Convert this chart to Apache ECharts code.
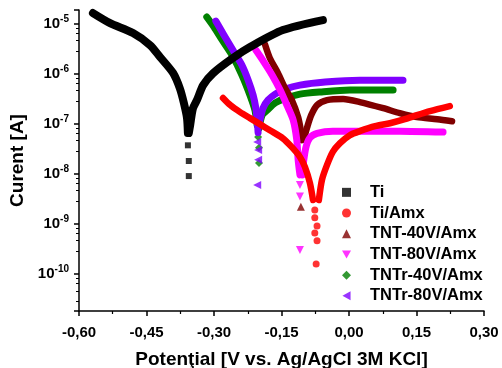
<!DOCTYPE html>
<html>
<head>
<meta charset="utf-8">
<script src="https://cdn.jsdelivr.net/npm/echarts@6/dist/echarts.min.js"></script>
<style>html,body{margin:0;padding:0;background:#fff}#c{width:502px;height:368px}</style>
</head>
<body>
<div id="c"></div>
<script>
// [potential (V), current (A)]
const seriesNames = ['Ti', 'Ti/Amx', 'TNT-40V/Amx', 'TNT-80V/Amx', 'TNTr-40V/Amx', 'TNTr-80V/Amx'];
const xTicks = [-0.60, -0.45, -0.30, -0.15, 0.00, 0.15, 0.30];

const tiCath = [[-0.569,1.62e-5],[-0.531,1.02e-5],[-0.480,6.45e-6],[-0.442,3.7e-6],[-0.420,2.15e-6],[-0.391,1.03e-6],[-0.376,5.1e-7],[-0.367,2.6e-7],[-0.360,1.3e-7],[-0.358,6.5e-8]];
const tiDip = [[-0.358,3.7e-8],[-0.356,1.8e-8],[-0.356,9e-9]];
const tiAnod = [[-0.356,6.5e-8],[-0.353,9.3e-8],[-0.347,2.0e-7],[-0.338,2.95e-7],[-0.324,5.9e-7],[-0.302,1.02e-6],[-0.258,2.05e-6],[-0.220,3.4e-6],[-0.147,7.4e-6],[-0.058,1.17e-5]];

const amxCath = [[-0.280,3.26e-7],[-0.264,2.35e-7],[-0.242,1.7e-7],[-0.220,1.29e-7],[-0.198,9.8e-8],[-0.176,7.4e-8],[-0.147,5.1e-8],[-0.127,3.4e-8],[-0.109,2.17e-8],[-0.098,1.37e-8],[-0.087,6.6e-9],[-0.080,3.0e-9]];
const amxDip = [[-0.076,1.9e-9],[-0.076,1.32e-9],[-0.071,9.1e-10],[-0.076,6.6e-10],[-0.071,4.6e-10],[-0.073,1.58e-10]];
const amxAnod = [[-0.067,3.0e-9],[-0.060,7.6e-9],[-0.049,1.49e-8],[-0.036,2.74e-8],[-0.020,4.1e-8],[0.002,5.9e-8],[0.024,7.1e-8],[0.058,8.9e-8],[0.091,1.02e-7],[0.124,1.23e-7],[0.151,1.48e-7],[0.180,1.78e-7],[0.224,2.24e-7]];

const t40Cath = [[-0.187,3.9e-6],[-0.176,2.05e-6],[-0.158,1.03e-6],[-0.142,5.1e-7],[-0.127,2.95e-7],[-0.113,1.35e-7],[-0.107,7.4e-8],[-0.104,4.7e-8]];
const t40Dip = [[-0.104,2.4e-8],[-0.107,2.2e-9]];
const t40Anod = [[-0.100,5.1e-8],[-0.093,8.5e-8],[-0.084,1.48e-7],[-0.071,2.35e-7],[-0.049,2.95e-7],[-0.013,3.1e-7],[0.024,2.7e-7],[0.076,2.04e-7],[0.113,1.62e-7],[0.151,1.35e-7],[0.196,1.23e-7],[0.229,1.12e-7]];

const t80Cath = [[-0.207,2.95e-6],[-0.189,1.7e-6],[-0.171,9.4e-7],[-0.153,4.7e-7],[-0.138,2.35e-7],[-0.124,1.18e-7],[-0.116,4.7e-8],[-0.113,1.9e-8],[-0.109,9.5e-9]];
const t80Dip = [[-0.109,6.0e-9],[-0.109,3.5e-9],[-0.109,3.0e-10]];
const t80Anod = [[-0.104,9.5e-9],[-0.102,1.5e-8],[-0.096,3.3e-8],[-0.087,5.2e-8],[-0.071,6.4e-8],[-0.036,7.1e-8],[0.024,7.1e-8],[0.113,7.1e-8],[0.209,6.8e-8]];

const r40Cath = [[-0.316,1.35e-5],[-0.300,8.5e-6],[-0.282,4.7e-6],[-0.260,2.35e-6],[-0.238,9.4e-7],[-0.220,3.7e-7],[-0.209,1.86e-7],[-0.204,9.3e-8]];
const r40Dip = [[-0.202,5.4e-8],[-0.200,3.3e-8],[-0.200,1.65e-8]];
const r40Anod = [[-0.200,8.1e-8],[-0.193,1.48e-7],[-0.182,1.86e-7],[-0.164,2.6e-7],[-0.142,3.2e-7],[-0.109,3.9e-7],[-0.064,4.3e-7],[0.002,4.7e-7],[0.098,4.7e-7]];

const r80Cath = [[-0.296,1.12e-5],[-0.278,5.9e-6],[-0.258,2.95e-6],[-0.238,1.48e-6],[-0.224,7.4e-7],[-0.213,3.7e-7],[-0.207,2.05e-7],[-0.204,1.17e-7],[-0.202,6.7e-8]];
const r80Dip = [[-0.204,4.3e-8],[-0.202,3.0e-8],[-0.202,1.9e-8],[-0.204,6.0e-9]];
const r80Anod = [[-0.198,1.17e-7],[-0.191,2.05e-7],[-0.180,2.95e-7],[-0.164,3.9e-7],[-0.142,4.9e-7],[-0.109,5.9e-7],[-0.053,6.8e-7],[0.024,7.4e-7],[0.120,7.4e-7]];

const colors = ['#000000', '#ff0000', '#800000', '#ff00ff', '#008000', '#8000ff'];
const symbols = ['rect', 'circle', 'triangle', 'path://M0,0L10,0L5,9Z', 'diamond', 'path://M9,0L9,10L0,5Z'];
const symSizes = [6, 7, 8, 8, 8, 8];
const lineWidths = [8, 6.5, 6.5, 7, 7, 7];
const groups = [
  [tiCath, tiDip, tiAnod],
  [amxCath, amxDip, amxAnod],
  [t40Cath, t40Dip, t40Anod],
  [t80Cath, t80Dip, t80Anod],
  [r40Cath, r40Dip, r40Anod],
  [r80Cath, r80Dip, r80Anod]
];
const zOrder = [8, 7, 4, 5, 2, 3];

const series = [];
groups.forEach((g, i) => {
  series.push({
    name: seriesNames[i], type: 'scatter', data: g[1],
    symbol: symbols[i], symbolSize: symSizes[i],
    itemStyle: { color: colors[i] }, z: zOrder[i]
  });
});
groups.forEach((g, i) => {
  [g[0], g[2]].forEach(d => {
    series.push({
      name: seriesNames[i], type: 'line', data: d, smooth: 0.25,
      showSymbol: false, symbol: 'none',
      lineStyle: { color: colors[i], width: lineWidths[i], cap: 'round', join: 'round' },
      itemStyle: { color: colors[i] }, z: zOrder[i]
    });
  });
});

const chart = echarts.init(document.getElementById('c'), null, { renderer: 'canvas' });
const bold = { fontFamily: 'Liberation Sans, Arial, sans-serif', fontWeight: 'bold', color: '#000' };
chart.setOption({
  animation: false,
  backgroundColor: '#fff',
  grid: { left: 79, right: 18, top: 10, bottom: 57, containLabel: false, outerBoundsMode: 'none' },
  legend: {
    orient: 'vertical', left: 342, top: 182, padding: 0,
    itemWidth: 9, itemHeight: 9, itemGap: 0,
    data: seriesNames.map((n, i) => ({ name: n, icon: symbols[i] })),
    textStyle: Object.assign({}, bold, { fontSize: 16.5, lineHeight: 20.7, padding: [0, 0, 0, 14] }),
    selectedMode: false
  },
  xAxis: {
    type: 'value', min: -0.6, max: 0.3, interval: 0.15,
    name: 'Potenţial [V vs. Ag/AgCl 3M KCl]', nameLocation: 'middle', nameGap: 39,
    nameTextStyle: Object.assign({}, bold, { fontSize: 19 }),
    axisLine: { onZero: false, lineStyle: { color: '#000', width: 1.5 } },
    axisTick: { inside: false, length: 5, lineStyle: { color: '#000', width: 1.5 } },
    minorTick: { show: true, splitNumber: 2, length: 3, lineStyle: { color: '#000', width: 1.2 } },
    splitLine: { show: false },
    axisLabel: Object.assign({}, bold, { fontSize: 15, margin: 14,
      formatter: v => (Math.abs(v) < 1e-9 ? 0 : v).toFixed(2).replace('.', ',') })
  },
  yAxis: {
    type: 'log', logBase: 10, min: Math.pow(10, -10.74), max: Math.pow(10, -4.73),
    name: 'Curent [A]', nameLocation: 'middle', nameGap: 50,
    nameTextStyle: Object.assign({}, bold, { fontSize: 19 }),
    axisLine: { show: true, onZero: false, lineStyle: { color: '#000', width: 1.5 } },
    axisTick: { inside: false, length: 5, lineStyle: { color: '#000', width: 1.5 } },
    minorTick: { show: true, splitNumber: 5, length: 3, lineStyle: { color: '#000', width: 1 } },
    splitLine: { show: false },
    axisLabel: {
      margin: 10,
      formatter: v => {
        const l = Math.log10(v); const e = Math.round(l);
        if (Math.abs(l - e) > 0.02) return '';
        return '{a|10}{b|' + e + '}';
      },
      rich: {
        a: Object.assign({}, bold, { fontSize: 15 }),
        b: Object.assign({}, bold, { fontSize: 10, padding: [0, 0, 9, 0] })
      }
    }
  },
  series: series
});
</script>
</body>
</html>
